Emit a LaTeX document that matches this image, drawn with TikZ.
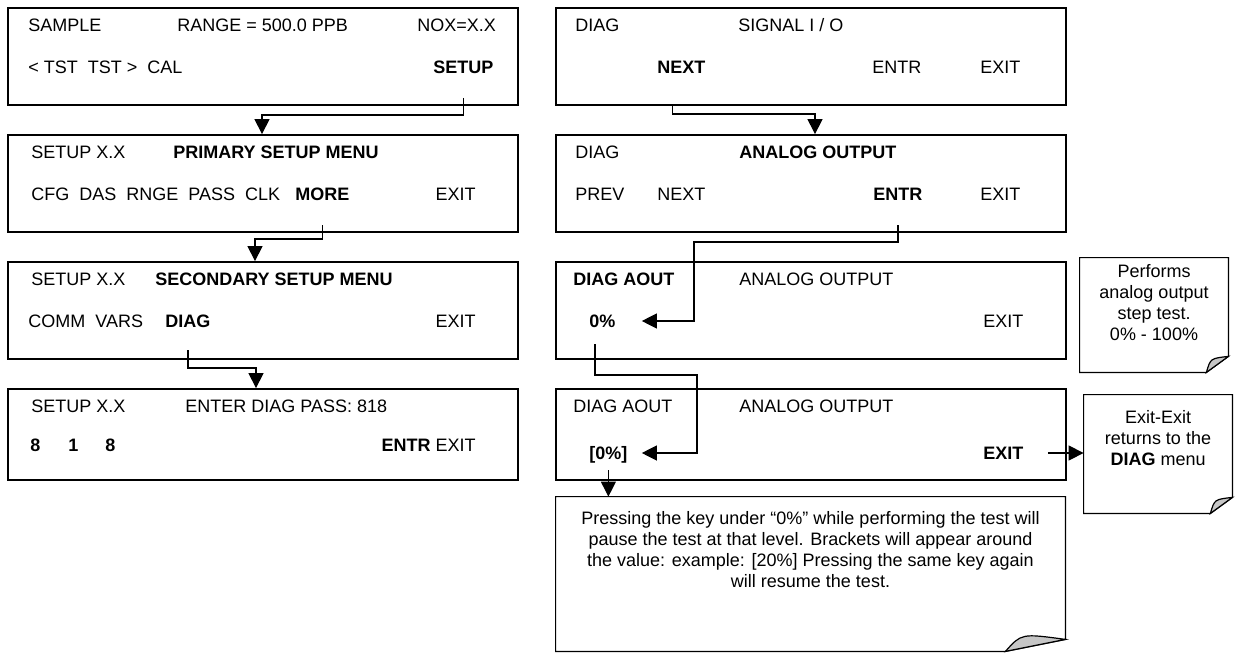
\documentclass[tikz,border=0pt]{standalone}
\usepackage{fontspec}
\setmainfont{Liberation Sans}
\usetikzlibrary{arrows.meta,positioning,calc}

\tikzset{
  screen/.style={draw,line width=0.9bp,minimum width=255bp,inner sep=0pt},
  lbl/.style={anchor=west,inner sep=0pt,text height=6.6bp,text depth=0pt,font=\fontsize{9bp}{10.5bp}\selectfont},
  key/.style={lbl,font=\fontsize{9bp}{10.5bp}\selectfont\bfseries},
  flow/.style={line width=0.6bp,-{Triangle[length=7.5bp,width=7.5bp]}},
  memo/.style={inner sep=0pt},
  memoline/.style={line width=0.6bp},
  curl/.style={line width=0.6bp,fill=gray!45},
  memotext/.style={align=center,inner sep=0pt,font=\fontsize{9bp}{10.5bp}\selectfont},
}

\begin{document}
\begin{tikzpicture}[x=0.5bp,y=-0.5bp]
  \useasboundingbox (0,0) rectangle (1236,654);

  % left column
  \node[screen,minimum height=48.5bp] (sample) at (263,56.5) {};
  \node[screen,minimum height=48.5bp] (primary) at (263,183.5) {};
  \node[screen,minimum height=48.5bp] (secondary) at (263,310.5) {};
  \node[screen,minimum height=45.5bp] (pass) at (263,434.5) {};

  \node[lbl] (smpl) at (28,25) {SAMPLE};
  \node[lbl] (range) at (177,25) {RANGE = 500.0 PPB};
  \node[lbl] (nox) at (417,25) {NOX=X.X};
  \node[lbl] (tst) at (28,67) {< TST\ \ TST >\ \ CAL};
  \node[key] (setup) at (433,67) {SETUP};

  \node[lbl] (su2) at (31,152) {SETUP X.X};
  \node[key] (prim) at (173,152) {PRIMARY SETUP MENU};
  \node[lbl] (cfg) at (31,194) {CFG\ \ DAS\ \ RNGE\ \ PASS\ \ CLK};
  \node[key] (more) at (295,194) {MORE};
  \node[lbl,anchor=east] (exit2) at (476,194) {EXIT};

  \node[lbl] (su3) at (31,279) {SETUP X.X};
  \node[key] (sec) at (155,279) {SECONDARY SETUP MENU};
  \node[lbl] (comm) at (28,321) {COMM\ \ VARS};
  \node[key] (diag3) at (165,321) {DIAG};
  \node[lbl,anchor=east] (exit3) at (476,321) {EXIT};

  \node[lbl] (su4) at (31,406) {SETUP X.X};
  \node[lbl] (enter) at (185,406) {ENTER DIAG PASS: 818};
  \node[key] (d1) at (30,445) {8};
  \node[key] (d2) at (68,445) {1};
  \node[key] (d3) at (105,445) {8};
  \node[lbl,anchor=east] (exit4) at (476,445) {\textbf{ENTR} EXIT};

  % right column
  \node[screen,minimum height=48.5bp] (sigio) at (811,56.5) {};
  \node[screen,minimum height=48.5bp] (aout) at (811,183.5) {};
  \node[screen,minimum height=48.5bp] (stepscr) at (811,310.5) {};
  \node[screen,minimum height=45.5bp] (hold) at (811,434.5) {};

  \node[lbl] (dg1) at (575,25) {DIAG};
  \node[lbl] (sig) at (738,25) {SIGNAL I / O};
  \node[key] (next1) at (657,67) {NEXT};
  \node[lbl] (entr1) at (872,67) {ENTR};
  \node[lbl] (exit5) at (980,67) {EXIT};

  \node[lbl] (dg2) at (575,152) {DIAG};
  \node[key] (ao2) at (739,152) {ANALOG OUTPUT};
  \node[lbl] (prev2) at (575,194) {PREV};
  \node[lbl] (next2) at (657,194) {NEXT};
  \node[key] (entr2) at (873,194) {ENTR};
  \node[lbl] (exit6) at (980,194) {EXIT};

  \node[key] (dg3) at (573,279) {DIAG AOUT};
  \node[lbl] (ao3) at (739,279) {ANALOG OUTPUT};
  \node[key] (pct) at (589,321) {0\%};
  \node[lbl] (exit7) at (983,321) {EXIT};

  \node[lbl] (dg4) at (573,406) {DIAG AOUT};
  \node[lbl] (ao4) at (739,406) {ANALOG OUTPUT};
  \node[key] (hpct) at (589,453) {[0\%]};
  \node[key] (exit8) at (983,453) {EXIT};

  % notes
  \node[memo,minimum width=74bp,minimum height=57bp] (perf) at (1154,315) {};
  \node[memotext] (perftxt) at (1154,303) {Performs\\analog output\\step test.\\0\% - 100\%};
  \draw[memoline] (perf.south west) -- (perf.north west) -- (perf.north east)
    -- ([yshift=8bp]perf.south east) -- ([xshift=-11bp]perf.south east) -- cycle;
  \filldraw[curl] ([yshift=8bp]perf.south east) .. controls ([xshift=-9bp,yshift=7bp]perf.south east)
    .. ([xshift=-11bp]perf.south east) -- cycle;

  \node[memo,minimum width=74bp,minimum height=59bp] (back) at (1158,454) {};
  \node[memotext] (backtxt) at (1158,438) {Exit-Exit\\returns to the\\\textbf{DIAG} menu};
  \draw[memoline] (back.south west) -- (back.north west) -- (back.north east)
    -- ([yshift=8bp]back.south east) -- ([xshift=-11bp]back.south east) -- cycle;
  \filldraw[curl] ([yshift=8bp]back.south east) .. controls ([xshift=-9bp,yshift=7bp]back.south east)
    .. ([xshift=-11bp]back.south east) -- cycle;

  \node[memo,minimum width=254.5bp,minimum height=77bp] (pause) at (810.5,574) {};
  \node[memotext] (pausetxt) at (810.5,550) {Pressing the key under “0\%” while performing the test will\\
    pause the test at that level. Brackets will appear around\\
    the value: example: [20\%] Pressing the same key again\\
    will resume the test.};
  \draw[memoline] (pause.south west) -- (pause.north west) -- (pause.north east)
    -- ([yshift=6bp]pause.south east) -- ([xshift=-30bp]pause.south east) -- cycle;
  \filldraw[curl] ([yshift=6bp]pause.south east) .. controls ([xshift=-22bp,yshift=9bp]pause.south east)
    .. ([xshift=-30bp]pause.south east) -- cycle;

  % connectors
  \coordinate (k1) at (262,115);
  \draw[flow] ([yshift=-12bp]setup.south) |- (k1) -- (k1 |- primary.north);
  \coordinate (k2) at (255,239);
  \draw[flow] ([yshift=-12bp]more.south) |- (k2) -- (k2 |- secondary.north);
  \coordinate (k3) at (256,368);
  \draw[flow] ([yshift=-11bp]diag3.south) |- (k3) -- (k3 |- pass.north);

  \coordinate (n1) at ([xshift=-4.5bp]next1.south);
  \coordinate (k4) at (815,114);
  \draw[flow] (n1 |- sigio.south) |- (k4) -- (k4 |- aout.north);
  \coordinate (k5) at (694,242);
  \draw[flow] ([yshift=-12bp]entr2.south) |- (k5) |- ([xshift=13bp]pct.east);
  \coordinate (k6) at (697,375);
  \draw[flow] ([xshift=3bp,yshift=-8bp]pct.south west) |- (k6) |- ([xshift=7bp]hpct.east);
  \draw[flow] ([yshift=-5bp]hpct.south) -- (hpct.south |- pause.north);
  \draw[flow] ([xshift=12bp]exit8.east) -- (exit8.east -| back.west);
\end{tikzpicture}
\end{document}
